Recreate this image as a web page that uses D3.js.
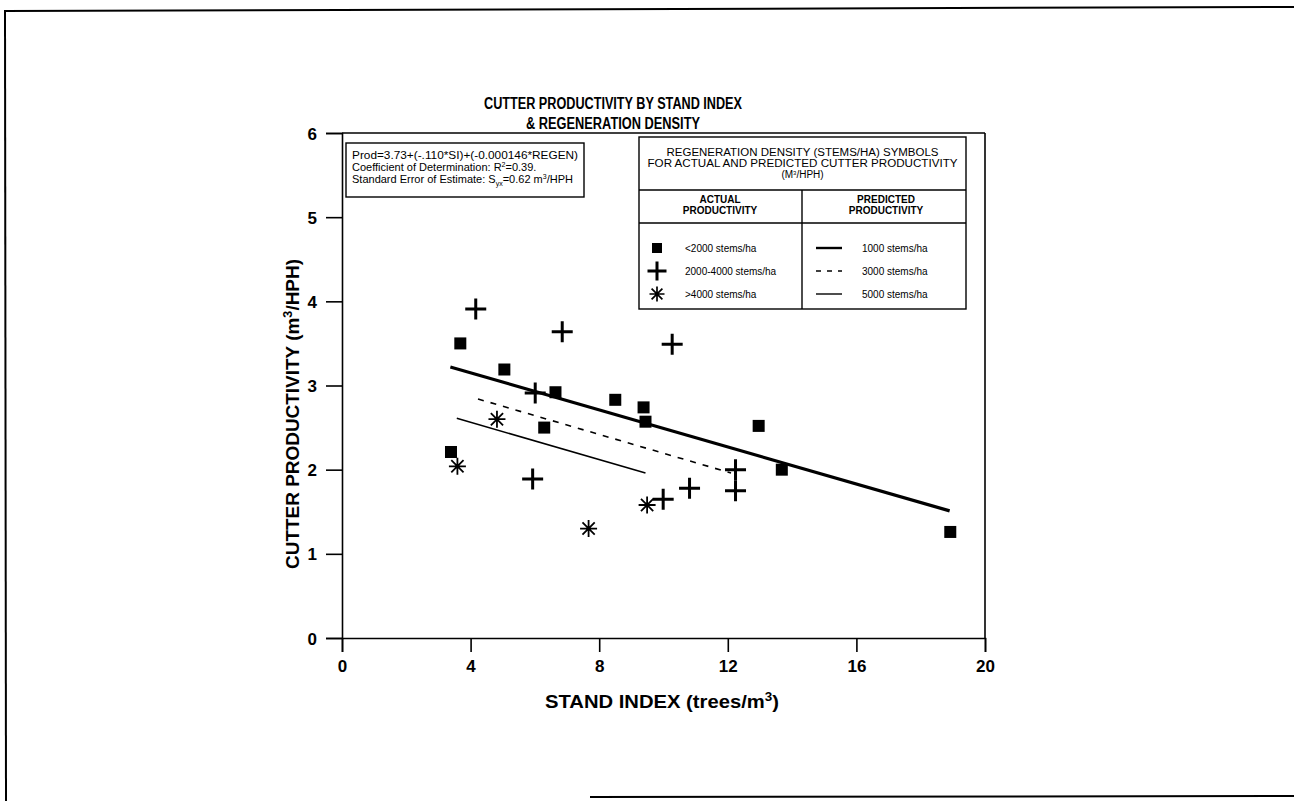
<!DOCTYPE html>
<html>
<head>
<meta charset="utf-8">
<script src="https://cdn.jsdelivr.net/npm/d3@7"></script>
<style>
  html, body { margin: 0; padding: 0; background: #fff; }
  svg { display: block; }
</style>
</head>
<body>
<div id="chart"></div>
<script>
// Cutter productivity by stand index & regeneration density
const width = 1294;
const height = 801;

// Actual productivity, by regeneration density class
const lowSI   = [3.39, 3.68, 5.05, 6.64, 6.29, 8.50, 9.38, 9.44, 12.96, 13.68, 18.92];
const lowProd = [2.21, 3.50, 3.19, 2.92, 2.50, 2.83, 2.74, 2.57, 2.52, 2.00, 1.26];

const midSI   = [4.16, 6.85, 10.27, 6.01, 5.93, 9.99, 10.81, 12.24, 12.24];
const midProd = [3.91, 3.64, 3.49, 2.91, 1.89, 1.65, 1.78, 2.00, 1.75];

const highSI   = [4.82, 3.59, 7.67, 9.49];
const highProd = [2.60, 2.04, 1.30, 1.58];

// Predicted productivity lines (end points)
const pred1000 = [[3.37, 3.22], [18.9, 1.51]];
const pred3000 = [[4.23, 2.84], [12.1, 1.96]];
const pred5000 = [[3.57, 2.61], [9.44, 1.96]];

const xTicks = [0, 4, 8, 12, 16, 20];
const yTicks = [0, 1, 2, 3, 4, 5, 6];

const actualLabels = ['<2000 stems/ha', '2000-4000 stems/ha', '>4000 stems/ha'];
const predLabels = ['1000 stems/ha', '3000 stems/ha', '5000 stems/ha'];

const font = '"Liberation Sans", Arial, Helvetica, sans-serif';

const svg = d3.select('#chart').append('svg')
  .attr('width', width)
  .attr('height', height)
  .style('font-family', font);

// Page border (scanned sheet edges)
svg.append('line').attr('x1', 4).attr('y1', 11).attr('x2', 1294).attr('y2', 7)
  .attr('stroke', '#000').attr('stroke-width', 2);
svg.append('line').attr('x1', 5).attr('y1', 11).attr('x2', 6).attr('y2', 801)
  .attr('stroke', '#000').attr('stroke-width', 2);
svg.append('line').attr('x1', 590).attr('y1', 797).attr('x2', 1294).attr('y2', 796)
  .attr('stroke', '#000').attr('stroke-width', 2);

const x = d3.scaleLinear().domain([0, 20]).range([342, 985]);
const y = d3.scaleLinear().domain([0, 6]).range([638, 133]);

// Title
svg.append('text')
  .attr('x', 613).attr('y', 109)
  .attr('text-anchor', 'middle')
  .attr('font-size', 16).attr('font-weight', 'bold')
  .attr('textLength', 258).attr('lengthAdjust', 'spacingAndGlyphs')
  .text('CUTTER PRODUCTIVITY BY STAND INDEX');
svg.append('text')
  .attr('x', 613).attr('y', 129)
  .attr('text-anchor', 'middle')
  .attr('font-size', 16).attr('font-weight', 'bold')
  .attr('textLength', 174).attr('lengthAdjust', 'spacingAndGlyphs')
  .text('& REGENERATION DENSITY');

// Axes
const yAxis = svg.append('g')
  .attr('transform', `translate(${x(0)},0)`)
  .call(d3.axisLeft(y).tickValues(yTicks).tickSize(16).tickPadding(9).tickFormat(d3.format('d')));
const xAxis = svg.append('g')
  .attr('transform', `translate(0,${y(0)})`)
  .call(d3.axisBottom(x).tickValues(xTicks).tickSize(14).tickPadding(8).tickFormat(d3.format('d')));

[yAxis, xAxis].forEach(g => {
  g.select('.domain').attr('stroke', '#000').attr('stroke-width', 1.6);
  g.selectAll('.tick line').attr('stroke', '#000').attr('stroke-width', 1.6);
  g.selectAll('.tick text')
    .attr('fill', '#000')
    .attr('font-family', font)
    .attr('font-size', 17)
    .attr('font-weight', 'bold');
});
yAxis.selectAll('.tick text').attr('dy', '0.36em');

// Plot frame: top and right
svg.append('line')
  .attr('x1', x(0)).attr('y1', y(6)).attr('x2', x(20)).attr('y2', y(6))
  .attr('stroke', '#000').attr('stroke-width', 1.6);
svg.append('line')
  .attr('x1', x(20)).attr('y1', y(6)).attr('x2', x(20)).attr('y2', y(0))
  .attr('stroke', '#000').attr('stroke-width', 1.6);

// Axis titles
const yTitle = svg.append('text')
  .attr('transform', 'translate(299,414) rotate(-90)')
  .attr('text-anchor', 'middle')
  .attr('font-size', 18).attr('font-weight', 'bold')
  .attr('textLength', 310).attr('lengthAdjust', 'spacingAndGlyphs');
yTitle.append('tspan').text('CUTTER PRODUCTIVITY (m');
yTitle.append('tspan').attr('dy', -7).attr('font-size', 12).text('3');
yTitle.append('tspan').attr('dy', 7).text('/HPH)');

const xTitle = svg.append('text')
  .attr('x', 662).attr('y', 708)
  .attr('text-anchor', 'middle')
  .attr('font-size', 18).attr('font-weight', 'bold')
  .attr('textLength', 234).attr('lengthAdjust', 'spacingAndGlyphs');
xTitle.append('tspan').text('STAND INDEX (trees/m');
xTitle.append('tspan').attr('dy', -7).attr('font-size', 12).text('3');
xTitle.append('tspan').attr('dy', 7).text(')');

// Symbol paths
function plusPath(s) {
  const h = s / 2;
  return `M${-h},0H${h}M0,${-h}V${h}`;
}
function starPath(s) {
  const h = s / 2, d = h * 0.72;
  return `M${-h},0H${h}M0,${-h}V${h}M${-d},${-d}L${d},${d}M${-d},${d}L${d},${-d}`;
}

// Predicted lines
const line = d3.line().x(d => x(d[0])).y(d => y(d[1]));
svg.append('path').datum(pred1000).attr('d', line)
  .attr('fill', 'none').attr('stroke', '#000').attr('stroke-width', 3.2);
svg.append('path').datum(pred3000).attr('d', line)
  .attr('fill', 'none').attr('stroke', '#000').attr('stroke-width', 1.6)
  .attr('stroke-dasharray', '6,7');
svg.append('path').datum(pred5000).attr('d', line)
  .attr('fill', 'none').attr('stroke', '#000').attr('stroke-width', 1.6);

// Actual points
const marks = svg.append('g');
marks.selectAll('rect.low')
  .data(d3.zip(lowSI, lowProd))
  .join('rect')
  .attr('class', 'low')
  .attr('x', d => x(d[0]) - 6).attr('y', d => y(d[1]) - 6)
  .attr('width', 12).attr('height', 12)
  .attr('fill', '#000');

marks.selectAll('path.mid')
  .data(d3.zip(midSI, midProd))
  .join('path')
  .attr('class', 'mid')
  .attr('transform', d => `translate(${x(d[0])},${y(d[1])})`)
  .attr('d', plusPath(21))
  .attr('stroke', '#000').attr('stroke-width', 3).attr('fill', 'none');

marks.selectAll('path.high')
  .data(d3.zip(highSI, highProd))
  .join('path')
  .attr('class', 'high')
  .attr('transform', d => `translate(${x(d[0])},${y(d[1])})`)
  .attr('d', starPath(17))
  .attr('stroke', '#000').attr('stroke-width', 1.8).attr('fill', 'none');

// Equation box
const eq = svg.append('g');
eq.append('rect')
  .attr('x', 346).attr('y', 143).attr('width', 238).attr('height', 54)
  .attr('fill', '#fff').attr('stroke', '#000').attr('stroke-width', 1.4);
const eqText = eq.append('g').attr('font-size', 11);
eqText.append('text').attr('x', 352).attr('y', 159)
  .attr('textLength', 226).attr('lengthAdjust', 'spacingAndGlyphs')
  .text('Prod=3.73+(-.110*SI)+(-0.000146*REGEN)');
const r2 = eqText.append('text').attr('x', 352).attr('y', 171);
r2.append('tspan').text('Coefficient of Determination: R');
r2.append('tspan').attr('dy', -4).attr('font-size', 7).text('2');
r2.append('tspan').attr('dy', 4).text('=0.39.');
const se = eqText.append('text').attr('x', 352).attr('y', 183);
se.append('tspan').text('Standard Error of Estimate: S');
se.append('tspan').attr('dy', 3).attr('font-size', 7).text('yx');
se.append('tspan').attr('dy', -3).text('=0.62 m');
se.append('tspan').attr('dy', -4).attr('font-size', 7).text('3');
se.append('tspan').attr('dy', 4).text('/HPH');

// Legend box
const lg = svg.append('g');
const lgL = 639, lgR = 966, lgT = 137, lgB = 309, lgMid = 802;
lg.append('rect')
  .attr('x', lgL).attr('y', lgT).attr('width', lgR - lgL).attr('height', lgB - lgT)
  .attr('fill', '#fff').attr('stroke', '#000').attr('stroke-width', 1.4);
lg.append('line').attr('x1', lgL).attr('x2', lgR).attr('y1', 190).attr('y2', 190)
  .attr('stroke', '#000').attr('stroke-width', 1.4);
lg.append('line').attr('x1', lgL).attr('x2', lgR).attr('y1', 223).attr('y2', 223)
  .attr('stroke', '#000').attr('stroke-width', 1.4);
lg.append('line').attr('x1', lgMid).attr('x2', lgMid).attr('y1', 190).attr('y2', lgB)
  .attr('stroke', '#000').attr('stroke-width', 1.4);

const lgc = (lgL + lgR) / 2;
lg.append('text').attr('x', lgc).attr('y', 156).attr('text-anchor', 'middle')
  .attr('font-size', 10).attr('textLength', 272).attr('lengthAdjust', 'spacingAndGlyphs')
  .text('REGENERATION DENSITY (STEMS/HA) SYMBOLS');
lg.append('text').attr('x', lgc).attr('y', 167).attr('text-anchor', 'middle')
  .attr('font-size', 10).attr('textLength', 310).attr('lengthAdjust', 'spacingAndGlyphs')
  .text('FOR ACTUAL AND PREDICTED CUTTER PRODUCTIVITY');
const m3 = lg.append('text').attr('x', lgc).attr('y', 178).attr('text-anchor', 'middle')
  .attr('font-size', 10);
m3.append('tspan').text('(M');
m3.append('tspan').attr('dy', -3).attr('font-size', 6).text('3');
m3.append('tspan').attr('dy', 3).text('/HPH)');

[['ACTUAL', 'PRODUCTIVITY', 720], ['PREDICTED', 'PRODUCTIVITY', 886]].forEach(([a, b, cx]) => {
  lg.append('text').attr('x', cx).attr('y', 203).attr('text-anchor', 'middle')
    .attr('font-size', 10).attr('font-weight', 'bold').text(a);
  lg.append('text').attr('x', cx).attr('y', 214).attr('text-anchor', 'middle')
    .attr('font-size', 10).attr('font-weight', 'bold').text(b);
});

const rowY = [248, 271, 294];
lg.append('rect').attr('x', 652).attr('y', rowY[0] - 5).attr('width', 10).attr('height', 10)
  .attr('fill', '#000');
lg.append('path').attr('transform', `translate(657,${rowY[1]})`).attr('d', plusPath(19))
  .attr('stroke', '#000').attr('stroke-width', 3).attr('fill', 'none');
lg.append('path').attr('transform', `translate(657,${rowY[2]})`).attr('d', starPath(15))
  .attr('stroke', '#000').attr('stroke-width', 1.7).attr('fill', 'none');

actualLabels.forEach((t, i) => {
  lg.append('text').attr('x', 685).attr('y', rowY[i] + 3.5).attr('font-size', 10).text(t);
});

const sampleStyles = [
  { w: 2.4, dash: null },
  { w: 1.4, dash: '5,6' },
  { w: 1.4, dash: null }
];
sampleStyles.forEach((s, i) => {
  const l = lg.append('line')
    .attr('x1', 816).attr('x2', 842).attr('y1', rowY[i]).attr('y2', rowY[i])
    .attr('stroke', '#000').attr('stroke-width', s.w);
  if (s.dash) l.attr('stroke-dasharray', s.dash);
});
predLabels.forEach((t, i) => {
  lg.append('text').attr('x', 862).attr('y', rowY[i] + 3.5).attr('font-size', 10).text(t);
});
</script>
</body>
</html>
